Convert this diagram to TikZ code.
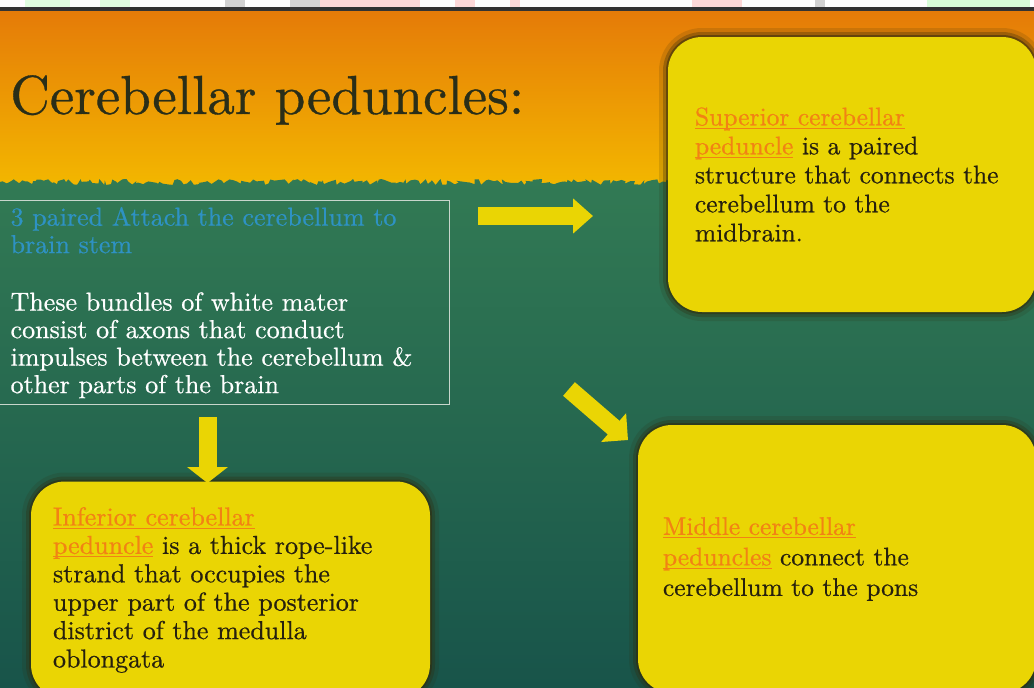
\documentclass[tikz,border=0pt]{standalone}
\usepackage{fontspec}
\setmainfont{lmroman10}[Extension=.otf, UprightFont=*-regular, BoldFont=*-bold, ItalicFont=*-italic, FakeBold=0.6]
\usetikzlibrary{arrows.meta,decorations.pathmorphing}

\definecolor{orangetop}{RGB}{229,122,8}
\definecolor{orangemid}{RGB}{238,152,4}
\definecolor{orangebot}{RGB}{243,183,0}
\definecolor{greentop}{RGB}{50,122,84}
\definecolor{greenbot}{RGB}{24,84,74}
\definecolor{boxyellow}{RGB}{234,213,4}
\definecolor{boxshade}{RGB}{48,42,12}
\definecolor{linkorange}{RGB}{242,130,20}
\definecolor{inktext}{RGB}{38,32,14}
\definecolor{titleink}{RGB}{42,46,24}
\definecolor{pairblue}{RGB}{46,146,196}
\definecolor{framegray}{RGB}{200,214,204}

\newcommand{\pedlink}[1]{\textcolor{linkorange}{\setbox0\hbox{#1}\rlap{\rule[-3.5pt]{\wd0}{1.1pt}}\box0}}

\begin{document}
\begin{tikzpicture}[x=1pt,y=-1pt,
  ybox/.style={rounded corners=34pt, fill=boxyellow, align=left, text=inktext,
    inner ysep=0pt, font=\fontsize{25.5}{29}\selectfont,
    preaction={draw=boxshade, line width=18pt, opacity=0.15},
    preaction={draw=boxshade, line width=10pt, opacity=0.3},
    preaction={draw=boxshade, line width=4pt, opacity=0.5}},
  infobox/.style={draw=framegray, line width=1.2pt, align=left, text=white,
    inner ysep=0pt, font=\fontsize{26}{27.5}\selectfont},
  yarrow/.style={draw=boxyellow, line width=18pt}]
\useasboundingbox (0,0) rectangle (1034,688);
\begin{scope}
\clip (0,0) rectangle (1034,688);

% background
\fill[white] (0,0) rectangle (1034,8);
\fill[green!20, opacity=0.6] (25,0) rectangle (70,7);
\fill[green!20, opacity=0.6] (100,0) rectangle (130,7);
\fill[gray!35] (225,0) rectangle (245,7);
\fill[gray!35] (290,0) rectangle (320,7);
\fill[red!15] (320,0) rectangle (420,7);
\fill[red!15] (455,0) rectangle (475,7);
\fill[red!15] (510,0) rectangle (520,7);
\fill[red!15] (692,0) rectangle (742,7);
\fill[gray!35] (815,0) rectangle (825,7);
\fill[green!15] (927,0) rectangle (1030,7);
\shade[top color=orangetop, middle color=orangemid, bottom color=orangebot] (0,8) rectangle (1034,186);
\fill[black!80] (0,7) rectangle (1034,11);
\pgfmathsetseed{7}
\shade[top color=greentop, bottom color=greenbot]
  (0,688) -- (0,182) decorate[decoration={random steps,segment length=3pt,amplitude=3pt}] {-- (1034,182)} -- (1034,688) -- cycle;

% title
\node[font=\fontsize{55}{60}\selectfont, text=titleink, anchor=base west, inner sep=0pt] (title) at (10,114) {Cerebellar peduncles:};

% info box
\node[infobox, anchor=north west, minimum width=450, minimum height=204, text width=428, inner xsep=11] (info) at (-1,200)
  {\color{pairblue}3 paired Attach the cerebellum to\\brain stem\\[30pt]
   \color{white}These bundles of white mater\\consist of axons that conduct\\impulses between the cerebellum \&\\other parts of the brain};

% yellow boxes
\node[ybox, minimum width=368, minimum height=275, text width=314, inner xsep=27] (superior) at (852,174.5)
  {\pedlink{Superior cerebellar}\\\pedlink{peduncle} is a paired\\structure that connects the\\cerebellum to the\\midbrain.};
\node[ybox, minimum width=398, minimum height=268, text width=348, inner xsep=25, font=\fontsize{25.5}{30.5}\selectfont] (middle) at (837,559)
  {\pedlink{Middle cerebellar}\\\pedlink{peduncles} connect the\\cerebellum to the pons};
\node[ybox, minimum width=399, minimum height=217, text width=355, inner xsep=22, font=\fontsize{26}{28.4}\selectfont] (inferior) at (230.5,590)
  {\pedlink{Inferior cerebellar}\\\pedlink{peduncle} is a thick rope-like\\strand that occupies the\\upper part of the posterior\\district of the medulla\\oblongata};

% arrows
\coordinate (right0) at (478,216);
\coordinate (right1) at (593,216);
\coordinate (down0) at (207.5,417);
\coordinate (down1) at (207.5,483);
\coordinate (diag0) at (569,389);
\coordinate (diag1) at (628,440);
\draw[yarrow, -{Triangle[width=34pt,length=20pt]}] (right0) -- (right1);
\draw[yarrow, -{Triangle[width=40pt,length=16pt]}] (down0) -- (down1);
\draw[yarrow, -{Triangle[width=37pt,length=19pt]}] (diag0) -- (diag1);
\end{scope}
\end{tikzpicture}
\end{document}
